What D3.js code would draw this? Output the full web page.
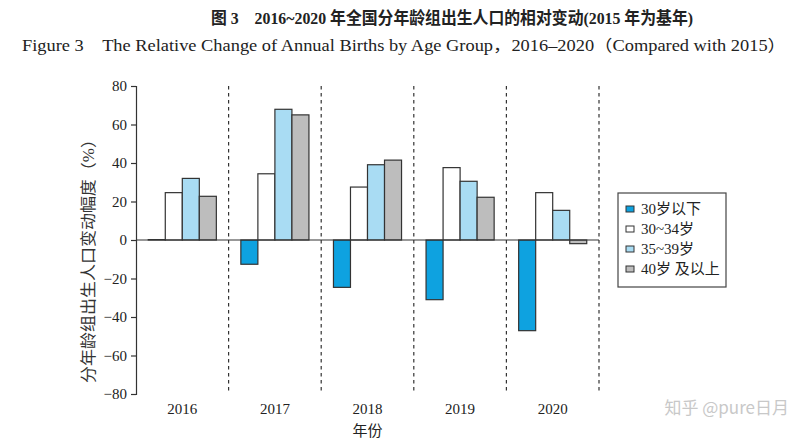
<!DOCTYPE html>
<html><head><meta charset="utf-8">
<script src="https://cdn.jsdelivr.net/npm/d3@7"></script>
<style>
body{margin:0;background:#fff;}
text{font-family:"Liberation Serif","Noto Sans CJK SC",serif;}
</style></head>
<body>
<svg id="c" width="800" height="446"></svg>
<script>
const years = ["2016","2017","2018","2019","2020"];
const seriesNames = ["30岁以下","30~34岁","35~39岁","40岁及以上"];
const legendLabels = ["30岁以下","30~34岁","35~39岁","40岁 及以上"];
const under30 = [0.2, -12.6, -24.6, -31.0, -47.1];
const age30_34 = [24.6, 34.4, 27.5, 37.6, 24.6];
const age35_39 = [32.0, 67.9, 39.1, 30.5, 15.4];
const age40plus = [22.7, 65.0, 41.5, 22.2, -1.9];
const yTicks = [-80,-60,-40,-20,0,20,40,60,80];
const colors = ["#0ea2e0","#ffffff","#a9dcf3","#bdbdbd"];

const seriesValues = [under30, age30_34, age35_39, age40plus];
const svg = d3.select("#c");
const L = 136, R = 599, T = 86, B = 394;
const y = d3.scaleLinear().domain([-80,80]).range([B,T]);
const x0 = d3.scaleBand().domain(years).range([L,R]).padding(0);
const x1 = d3.scaleBand().domain(seriesNames).range([0,x0.bandwidth()]).paddingInner(0).paddingOuter(0.72);

// titles
svg.append("text").attr("x",452).attr("y",24).attr("text-anchor","middle")
  .attr("font-size",17).attr("font-weight","bold").attr("fill","#222")
  .attr("textLength",482).attr("lengthAdjust","spacingAndGlyphs")
  .text("图 3　2016~2020 年全国分年龄组出生人口的相对变动(2015 年为基年)");
svg.append("text").attr("x",404).attr("y",51).attr("text-anchor","middle")
  .attr("font-size",16).attr("fill","#222").attr("textLength",764).attr("lengthAdjust","spacingAndGlyphs")
  .text("Figure 3　The Relative Change of Annual Births by Age Group，2016–2020（Compared with 2015）");

// dashed separators
svg.append("g").selectAll("line").data(years).join("line")
  .attr("x1",d=>x0(d)+x0.bandwidth()).attr("x2",d=>x0(d)+x0.bandwidth())
  .attr("y1",T).attr("y2",B).attr("stroke","#333").attr("stroke-width",1.2)
  .attr("stroke-dasharray","3.5,3.5");

// bars
const g = svg.append("g");
years.forEach((yr,i)=>{
  seriesNames.forEach((s,j)=>{
    const v = seriesValues[j][i];
    g.append("rect")
      .attr("x",x0(yr)+x1(s)).attr("width",x1.bandwidth())
      .attr("y",y(Math.max(0,v))).attr("height",Math.abs(y(v)-y(0)))
      .attr("fill",colors[j]).attr("stroke","#333").attr("stroke-width",1.2);
  });
});

// zero line
svg.append("line").attr("x1",L).attr("x2",R).attr("y1",y(0)).attr("y2",y(0))
  .attr("stroke","#333").attr("stroke-width",1.2);

// y axis
const ya = svg.append("g").attr("transform",`translate(${L},0)`)
  .call(d3.axisLeft(y).tickValues(yTicks).tickSize(5).tickPadding(4).tickFormat(d=>d<0?"−"+Math.abs(d):d));
ya.select(".domain").attr("stroke","#333").attr("stroke-width",1.2);
ya.selectAll(".tick line").attr("stroke","#333").attr("stroke-width",1.2);
ya.selectAll(".tick text").attr("font-size",15).attr("fill","#222")
  .style("font-family","'Liberation Serif',serif");

// x labels
svg.append("g").selectAll("text").data(years).join("text")
  .attr("x",d=>x0(d)+x0.bandwidth()/2).attr("y",414).attr("text-anchor","middle")
  .attr("font-size",15).attr("fill","#222").text(d=>d);
svg.append("text").attr("x",(L+R)/2).attr("y",436).attr("text-anchor","middle")
  .attr("font-size",15).attr("fill","#222").text("年份");

// y title
svg.append("text").attr("transform",`translate(94,257) rotate(-90)`)
  .attr("text-anchor","middle").attr("font-size",16).attr("fill","#333")
  .attr("textLength",252).attr("lengthAdjust","spacingAndGlyphs")
  .text("分年龄组出生人口变动幅度（%）");

// legend
const lg = svg.append("g");
lg.append("rect").attr("x",618).attr("y",193).attr("width",108).attr("height",94)
  .attr("fill","#fff").attr("stroke","#444").attr("stroke-width",1.2);
legendLabels.forEach((lab,j)=>{
  const yy = 209 + j*20;
  lg.append("rect").attr("x",626).attr("y",yy-3).attr("width",8).attr("height",6)
    .attr("fill",colors[j]).attr("stroke","#333").attr("stroke-width",1);
  lg.append("text").attr("x",641).attr("y",yy+5).attr("font-size",15).attr("fill","#222").text(lab);
});

// watermark
svg.append("text").attr("x",789).attr("y",414).attr("text-anchor","end")
  .attr("font-size",17).attr("fill","#c8c8c8")
  .style("font-family","'Noto Sans CJK SC',sans-serif").text("知乎 @pure日月");
</script>
</body></html>
